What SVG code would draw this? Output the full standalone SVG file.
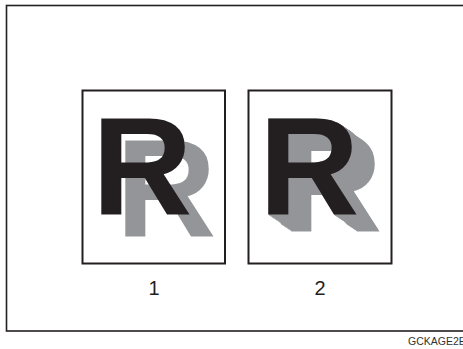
<svg xmlns="http://www.w3.org/2000/svg" width="463" height="349" viewBox="0 0 463 349">
<style>
.frame{fill:none;stroke:#231f20;stroke-width:1.6}
.box{fill:#fff;stroke:#231f20;stroke-width:2}
.big{font-family:"Liberation Sans",Arial,sans-serif;font-weight:bold;font-size:139px;fill:#231f20}
.num{font-family:"Liberation Sans",Arial,sans-serif;font-size:20px;fill:#231f20;text-anchor:middle}
.code{font-family:"Liberation Sans",Arial,sans-serif;font-size:10.5px;fill:#333}
</style>
<defs>
<filter id="ghost" x="-20%" y="-20%" width="160%" height="160%" color-interpolation-filters="sRGB">
<feOffset in="SourceAlpha" dx="24" dy="22" result="o"/>
<feFlood flood-color="#939598"/>
<feComposite in2="o" operator="in" result="g"/>
<feMerge><feMergeNode in="g"/><feMergeNode in="SourceGraphic"/></feMerge>
</filter>
<filter id="extrude" x="-20%" y="-20%" width="160%" height="160%" color-interpolation-filters="sRGB">
<feOffset in="SourceAlpha" dx="0.742" dy="0.548" result="a1"/>
<feMerge result="m1"><feMergeNode in="SourceAlpha"/><feMergeNode in="a1"/></feMerge>
<feOffset in="m1" dx="1.484" dy="1.097" result="a2"/>
<feMerge result="m2"><feMergeNode in="m1"/><feMergeNode in="a2"/></feMerge>
<feOffset in="m2" dx="2.968" dy="2.194" result="a3"/>
<feMerge result="m3"><feMergeNode in="m2"/><feMergeNode in="a3"/></feMerge>
<feOffset in="m3" dx="5.935" dy="4.387" result="a4"/>
<feMerge result="m4"><feMergeNode in="m3"/><feMergeNode in="a4"/></feMerge>
<feOffset in="m4" dx="11.871" dy="8.774" result="a5"/>
<feMerge result="m5"><feMergeNode in="m4"/><feMergeNode in="a5"/></feMerge>
<feFlood flood-color="#939598"/>
<feComposite in2="m5" operator="in" result="g"/>
<feMerge><feMergeNode in="g"/><feMergeNode in="SourceGraphic"/></feMerge>
</filter>
</defs>
<rect class="frame" x="6.5" y="5.5" width="470" height="325.5"/>
<g id="panel1">
<rect class="box" x="82.5" y="90.5" width="142.5" height="173"/>
<text class="big" x="92" y="213.5" filter="url(#ghost)">R</text>
<text class="num" x="154" y="295">1</text>
</g>
<g id="panel2">
<rect class="box" x="248.5" y="90.5" width="143" height="173"/>
<text class="big" x="259" y="213.5" filter="url(#extrude)">R</text>
<text class="num" x="320" y="295">2</text>
</g>
<g id="connectors"/>
<text class="code" x="408" y="345">GCKAGE2E</text>
</svg>
